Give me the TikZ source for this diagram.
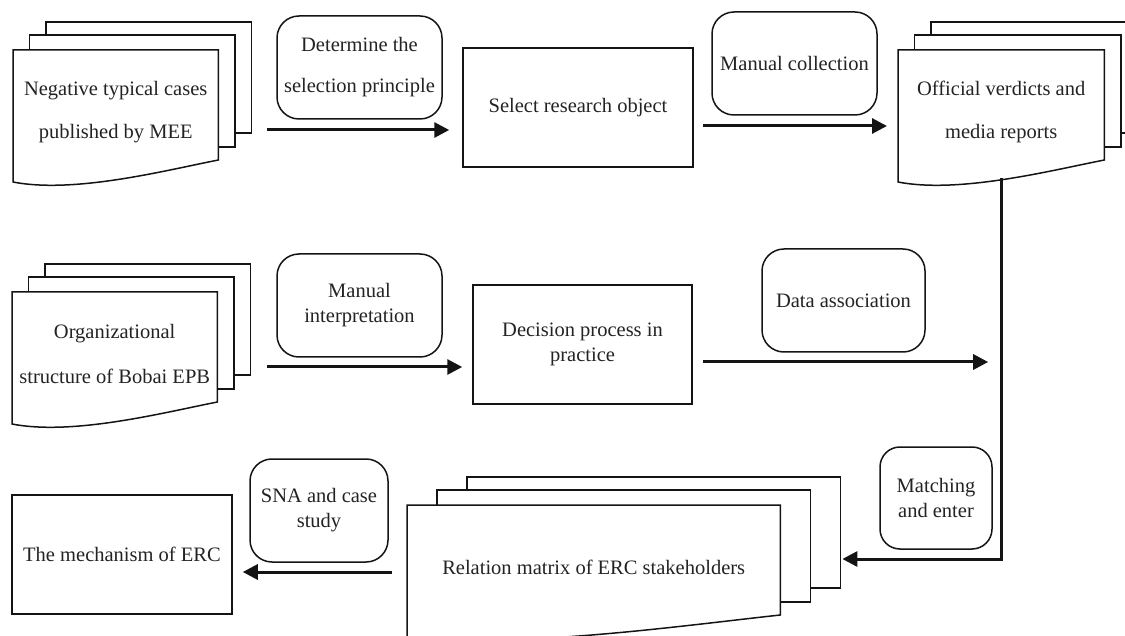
\documentclass[tikz,border=0pt]{standalone}
\usepackage{fontspec}
\setmainfont{Liberation Serif}
\usetikzlibrary{arrows.meta, calc, positioning}
\definecolor{inkline}{RGB}{20, 20, 20}
\definecolor{inktext}{RGB}{35, 35, 35}

% stack of three sheets round a document node: #1 node, #2 sheet offset
\newcommand{\docstack}[2]{%
  \draw[sheet] (#1.north west) -- (#1.north east) -- ($(#1.north east)+(0,110)$)
    .. controls ($(#1.north west)!0.75!(#1.north east)+(0,120)$) and ($(#1.north west)!0.3!(#1.north east)+(0,144)$) .. ($(#1.north west)+(0,132)$) -- cycle;
  \draw[sheet] ($(#1.north west)+(#2,0)$) -- ++(0,-15) -- ($(#1.north east)+(#2,-15)$) -- ++(0,112) -- ++(-#2,0);
  \draw[sheet] ($(#1.north west)+(2*#2,-15)$) -- ++(0,-13) -- ($(#1.north east)+(2*#2,-28)$) -- ++(0,111) -- ++(-#2,0);
}

\begin{document}
\begin{tikzpicture}[x=1pt, y=-1pt,
    box/.style={draw=inkline, line width=1.5pt, text=inktext, align=center, inner sep=2pt, font=\fontsize{20.5}{25}\selectfont},
    method/.style={box, rounded corners=22pt},
    docnode/.style={anchor=north west, inner sep=0pt, minimum height=124pt, text=inktext, align=center, font=\fontsize{20.5}{43}\selectfont},
    sheet/.style={draw=inkline, line width=1.5pt},
    flow/.style={-{Triangle[length=15pt, width=15pt]}, line width=3pt, draw=inkline}]
  \useasboundingbox (0,0) rectangle (1125,636);

  % top row
  \node[docnode, minimum width=205pt] (mee) at (13,50) {Negative typical cases\\published by MEE};
  \docstack{mee}{16.5}
  \node[method, minimum width=165pt, minimum height=103pt, font=\fontsize{20.5}{41}\selectfont] (principle) at (359.5,67.5) {Determine the\\selection principle};
  \node[box, minimum width=230pt, minimum height=119pt] (select) at (578,107.5) {Select research object};
  \node[method, minimum width=165pt, minimum height=103pt] (collection) at (794.5,63.5) {Manual collection};
  \node[docnode, minimum width=206pt] (verdicts) at (898,50) {Official verdicts and\\media reports};
  \docstack{verdicts}{16.5}

  \draw[flow, shorten <=49pt, shorten >=13pt] (mee.east |- 0,130) -- (select.west |- 0,130);
  \draw[flow, shorten <=9pt, shorten >=11pt] (select.east |- 0,126) -- (verdicts.west |- 0,126);

  % middle row
  \node[docnode, minimum width=205pt, font=\fontsize{20.5}{45}\selectfont] (bobai) at (12,292) {Organizational\\structure of Bobai EPB};
  \docstack{bobai}{16.5}
  \node[method, minimum width=165pt, minimum height=103pt] (interpretation) at (359.5,305.5) {Manual\\interpretation};
  \node[box, minimum width=219pt, minimum height=119pt] (decision) at (582.5,344.5) {Decision process in\\practice};
  \node[method, minimum width=163pt, minimum height=103pt] (association) at (843.5,300.5) {Data association};
  \coordinate (junction) at (verdicts.south |- 0,362);

  \draw[flow, shorten <=50pt, shorten >=10pt] (bobai.east |- 0,367) -- (decision.west |- 0,367);
  \draw[flow, shorten <=10pt, shorten >=13pt] (decision.east |- junction) -- (junction);

  % bottom row
  \node[box, minimum width=220pt, minimum height=119pt] (mechanism) at (122,554.5) {The mechanism of ERC};
  \node[method, minimum width=138pt, minimum height=103pt] (sna) at (319,510.5) {SNA and case\\study};
  \node[docnode, minimum width=373pt] (matrix) at (407,505) {Relation matrix of ERC stakeholders};
  \docstack{matrix}{30}
  \node[method, minimum width=112pt, minimum height=102pt, rounded corners=20pt] (matching) at (936,498) {Matching\\and enter};

  \draw[flow, shorten <=4pt] (verdicts.south) |- ($(matrix.north east)+(62,54)$);
  \draw[flow, shorten <=15pt, shorten >=10pt] (matrix.west |- 0,572) -- (mechanism.east |- 0,572);
\end{tikzpicture}
\end{document}
